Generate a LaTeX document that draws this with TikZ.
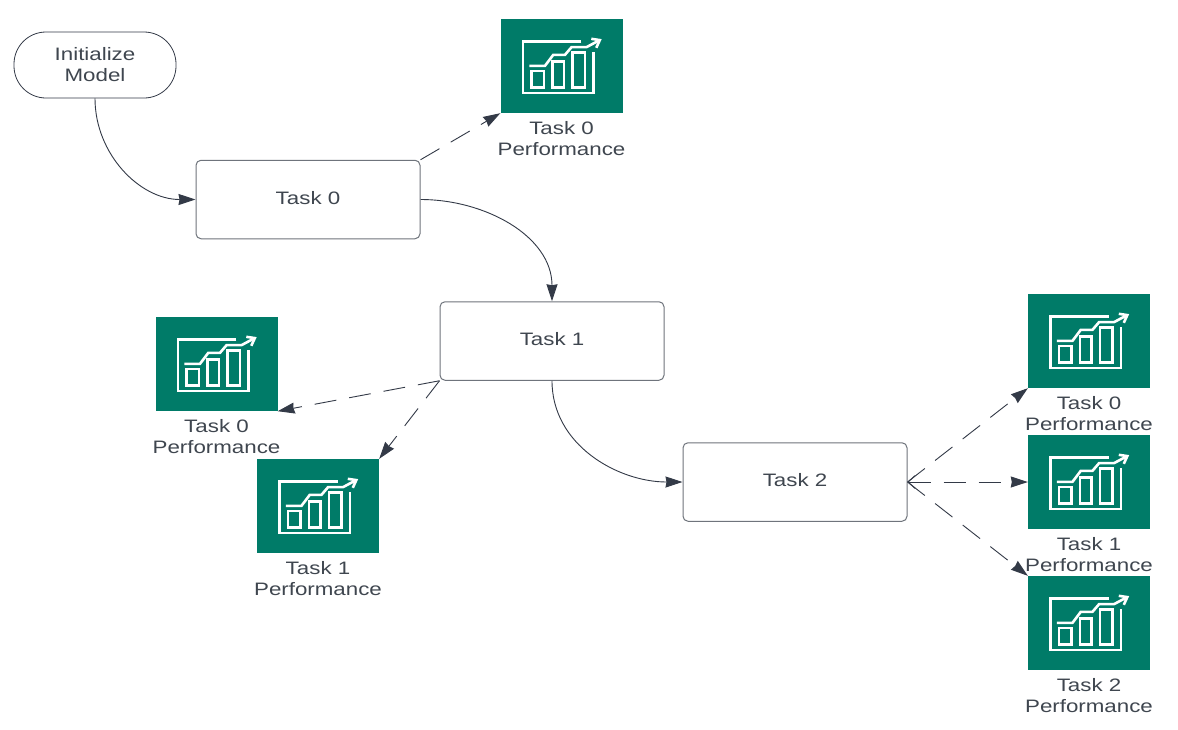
\documentclass[tikz,border=0pt]{standalone}
\usepackage{fontspec}
\setmainfont[FakeStretch=1.24]{Liberation Sans}
\usetikzlibrary{arrows.meta,calc}
\definecolor{teal}{HTML}{007B68}
\definecolor{ink}{HTML}{333A47}
\definecolor{edgegray}{HTML}{6F747C}
\definecolor{txt}{HTML}{3F464F}
\tikzset{
  x=1pt,y=-1pt,
  every node/.style={font=\fontsize{18}{21}\selectfont,text=txt,align=center,inner sep=0pt},
  taskbox/.style={draw=edgegray,line width=1pt,rounded corners=5pt,minimum width=224pt,minimum height=78.5pt},
  startbox/.style={draw=ink,line width=0.8pt,rounded corners=32pt,minimum width=162pt,minimum height=66pt},
  square/.style={fill=teal,minimum width=122pt,minimum height=94pt},
  caption/.style={yshift=-25.5pt},
  flow/.style={draw=ink,line width=0.9pt,-{Stealth[length=17pt,width=11pt,inset=1pt]}},
  dashflow/.style={flow,dash pattern=on 22pt off 13pt},
  chart/.pic={
    \begin{scope}[draw=white,line width=2.6pt,line join=miter]
      \draw (81,22.7) -- (22.7,22.7) -- (22.7,74.3) -- (93,74.3) -- (93,32.7);
      \draw (31,52) rectangle (43.7,68.7);
      \draw (52,42.7) rectangle (63.7,68.7);
      \draw (72.3,33.7) rectangle (84.7,68.7);
      \draw (29,47) -- (44.7,47) -- (53,36) -- (64.7,36) -- (71.3,28.3) -- (86.3,28.3) -- (99,21.5);
      \draw (91,20) -- (99.5,21.3) -- (96,29);
    \end{scope}
  }
}
\begin{document}
\begin{tikzpicture}
\useasboundingbox[fill=white] (0,0) rectangle (1178,729);
\node[startbox] (init) at (95,65) {Initialize\\Model};
\node[taskbox] (t0) at (308,199.5) {\raisebox{4pt}{Task 0}};
\node[taskbox] (t1) at (552,341) {\raisebox{4pt}{Task 1}};
\node[taskbox] (t2) at (795,482) {\raisebox{4pt}{Task 2}};
\node[square] (a) at (561.5,66) {};
\node[square] (b) at (216.5,364) {};
\node[square] (c) at (318,506) {};
\node[square] (d) at (1089,341) {};
\node[square] (e) at (1089,482) {};
\node[square] (f) at (1089,623) {};
\foreach \n in {a,b,c,d,e,f} {\pic at (\n.north west) {chart};}
\node[caption] (la) at (a.south) {Task 0\\Performance};
\node[caption] (lb) at (b.south) {Task 0\\Performance};
\node[caption] (lc) at (c.south) {Task 1\\Performance};
\node[caption] (ld) at (d.south) {Task 0\\Performance};
\node[caption] (le) at (e.south) {Task 1\\Performance};
\node[caption] (lf) at (f.south) {Task 2\\Performance};
\draw[flow] (init.south) to[out=-90,in=180,looseness=1] (t0.west);
\draw[flow] (t0.east) to[out=0,in=90,looseness=1] (t1.north);
\draw[flow] (t1.south) to[out=-90,in=180,looseness=1] (t2.west);
\draw[dashflow] (t0.north east) -- (a.south west);
\draw[dashflow] (t1.south west) -- (b.south east);
\draw[dashflow] (t1.south west) -- (c.north east);
\draw[dashflow] (t2.east) -- (d.south west);
\draw[dashflow,{Straight Barb[length=7pt,width=13pt,line width=0.9pt]}-{Stealth[length=17pt,width=11pt,inset=1pt]}] (t2.east) -- (e.west);
\draw[dashflow] (t2.east) -- (f.north west);
\end{tikzpicture}
\end{document}
